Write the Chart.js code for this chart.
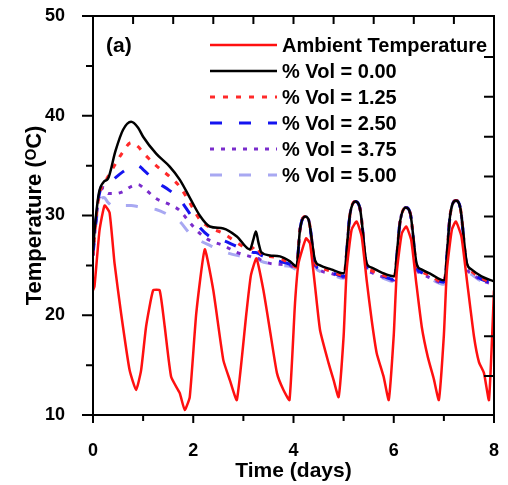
<!DOCTYPE html>
<html>
<head>
<meta charset="utf-8">
<script src="https://cdn.jsdelivr.net/npm/chart.js@4.4.1/dist/chart.umd.min.js"></script>
<style>
  html, body { margin: 0; padding: 0; background: #fff; }
  #wrap { width: 508px; height: 485px; }
</style>
</head>
<body>
<div id="wrap"><canvas id="tempChart" width="508" height="485"></canvas></div>
<script>
// Ambient temperature (own time grid)
const tAmb = [0.00, 0.03, 0.13, 0.23, 0.33, 0.43, 0.56, 0.73, 0.86, 0.96, 1.06, 1.20, 1.33, 1.43, 1.56, 1.73, 1.83, 1.93,
  2.06, 2.23, 2.40, 2.60, 2.73, 2.87, 3.06, 3.15, 3.26, 3.40, 3.53, 3.67, 3.80, 3.92,
  4.03, 4.10, 4.25, 4.33, 4.43, 4.53, 4.70, 4.80, 4.90, 5.00, 5.06, 5.16, 5.26, 5.36, 5.46, 5.56, 5.66, 5.80, 5.90,
  6.00, 6.06, 6.16, 6.25, 6.35, 6.45, 6.56, 6.68, 6.80, 6.90, 7.00, 7.06, 7.16, 7.24, 7.35, 7.46, 7.60, 7.70, 7.80, 7.90, 8.00];
const ambient = [22.5, 22.9, 28.5, 31.0, 30.3, 25.2, 20.2, 14.5, 12.5, 14.5, 18.9, 22.5, 22.5, 18.9, 13.8, 12.2, 10.5, 11.8,
  20.2, 26.6, 22.5, 15.5, 13.5, 11.5, 20.2, 24.0, 25.7, 22.5, 18.5, 14.2, 12.5, 11.5,
  21.2, 25.2, 27.7, 27.2, 22.9, 18.5, 15.2, 13.5, 11.8, 17.9, 24.5, 28.6, 29.4, 27.9, 23.5, 19.5, 16.2, 13.8, 11.5,
  18.0, 24.3, 28.2, 28.9, 27.5, 23.2, 18.8, 15.8, 13.6, 11.5, 18.0, 24.5, 28.6, 29.4, 27.9, 23.5, 17.9, 15.3, 14.2, 11.5, 22.5];

// Room temperature for each PCM volume fraction (shared time grid)
const tVol = [0.00, 0.05, 0.12, 0.22, 0.30, 0.45, 0.60, 0.76, 0.90, 1.00, 1.26, 1.53, 1.73, 1.93, 2.13, 2.33, 2.60, 2.87,
  3.13, 3.20, 3.25, 3.30, 3.36, 3.53, 3.73, 3.93, 4.06, 4.13, 4.23, 4.30, 4.43, 4.53, 4.75, 5.00,
  5.13, 5.23, 5.33, 5.46, 5.55, 5.75, 6.00, 6.13, 6.24, 6.33, 6.46, 6.55, 6.75, 7.00,
  7.13, 7.24, 7.33, 7.46, 7.55, 7.75, 8.00];
const vol000 = [26.5, 29.5, 32.3, 33.4, 33.7, 36.5, 38.6, 39.4, 38.8, 37.9, 36.2, 34.9, 33.6, 31.8, 30.0, 28.9, 28.7, 27.9,
  26.6, 27.6, 28.4, 27.3, 26.3, 26.0, 25.9, 25.4, 24.9, 28.6, 29.9, 29.6, 25.5, 25.0, 24.6, 24.2,
  30.2, 31.4, 30.6, 25.2, 24.8, 24.3, 23.9, 29.5, 30.8, 30.2, 25.1, 24.6, 24.1, 23.5,
  30.2, 31.5, 30.7, 25.2, 24.6, 23.9, 23.4];
const vol125 = [26.0, 29.0, 32.0, 33.2, 33.9, 35.2, 36.4, 37.3, 36.9, 36.3, 35.0, 33.9, 32.9, 31.3, 29.6, 28.8, 28.2, 27.3,
  26.6, 26.8, 27.0, 26.6, 26.1, 25.9, 25.7, 25.2, 24.8, 28.6, 29.9, 29.6, 25.3, 24.8, 24.4, 24.0,
  30.2, 31.4, 30.6, 25.0, 24.5, 24.1, 23.7, 29.5, 30.8, 30.2, 24.9, 24.4, 23.9, 23.3,
  30.2, 31.5, 30.7, 25.0, 24.4, 23.7, 23.2];
const vol250 = [26.0, 29.0, 32.0, 33.2, 33.1, 33.8, 34.4, 34.9, 35.0, 34.6, 33.4, 32.5, 31.6, 30.2, 28.8, 27.9, 27.5, 26.9,
  26.4, 26.3, 26.3, 26.2, 26.0, 25.7, 25.4, 25.1, 24.7, 28.6, 29.9, 29.6, 25.2, 24.6, 24.3, 23.9,
  30.2, 31.4, 30.6, 24.9, 24.4, 24.0, 23.6, 29.5, 30.8, 30.2, 24.8, 24.3, 23.8, 23.3,
  30.2, 31.5, 30.7, 24.9, 24.3, 23.6, 23.2];
const vol375 = [26.0, 29.0, 31.8, 32.8, 32.2, 32.2, 32.4, 32.9, 33.1, 32.8, 31.7, 31.1, 30.5, 29.3, 28.2, 27.5, 27.0, 26.3,
  25.9, 25.8, 25.8, 25.7, 25.5, 25.2, 25.1, 25.0, 24.7, 28.6, 29.9, 29.6, 25.1, 24.5, 24.2, 23.8,
  30.2, 31.4, 30.6, 24.8, 24.3, 23.9, 23.5, 29.5, 30.8, 30.2, 24.7, 24.2, 23.7, 23.2,
  30.2, 31.5, 30.7, 24.8, 24.2, 23.5, 23.1];
const vol500 = [26.0, 28.8, 31.2, 31.8, 31.3, 30.8, 31.0, 31.0, 30.9, 30.8, 30.6, 30.0, 29.4, 28.2, 27.5, 27.0, 26.4, 26.0,
  25.8, 25.7, 25.7, 25.6, 25.4, 25.2, 25.0, 24.9, 24.6, 28.6, 29.9, 29.6, 25.0, 24.4, 24.1, 23.7,
  30.2, 31.4, 30.6, 24.7, 24.2, 23.8, 23.4, 29.5, 30.8, 30.2, 24.6, 24.1, 23.6, 23.1,
  30.2, 31.5, 30.7, 24.7, 24.1, 23.4, 23.0];

const seriesLabels = ['Ambient Temperature', '% Vol = 0.00', '% Vol = 1.25', '% Vol = 2.50', '% Vol = 3.75', '% Vol = 5.00'];

// tick marks of the frame
const xMajor = [0, 2, 4, 6, 8];
const xMinor = [1, 3, 5, 7];
const yMajor = [10, 20, 30, 40, 50];
const yMinor = [15, 25, 35, 45];
const topTicks = [0.8, 1.6, 2.4, 3.2, 4.0, 4.8, 5.6, 6.4, 7.2];
const rightTicks = [13.9, 17.9, 21.9, 25.9, 29.9, 33.9, 37.9, 41.9, 45.9];

const FONT = "'Liberation Sans', Arial, sans-serif";

function toPoints(ts, vs) {
    return ts.map((t, i) => ({ x: t, y: vs[i] }));
}

// рамка, засечки, подпись (a) и легенда
const framePlugin = {
    id: 'frame',
    afterDraw(chart) {
        const ctx = chart.ctx;
        const a = chart.chartArea;
        const xs = chart.scales.x, ys = chart.scales.y;
        ctx.save();
        ctx.strokeStyle = '#000';
        ctx.lineWidth = 2;
        ctx.strokeRect(a.left, a.top, a.right - a.left, a.bottom - a.top);

        ctx.beginPath();
        xMajor.forEach(v => { const p = xs.getPixelForValue(v); ctx.moveTo(p, a.bottom); ctx.lineTo(p, a.bottom + 8); });
        xMinor.forEach(v => { const p = xs.getPixelForValue(v); ctx.moveTo(p, a.bottom); ctx.lineTo(p, a.bottom + 6); });
        yMajor.forEach(v => { const p = ys.getPixelForValue(v); ctx.moveTo(a.left, p); ctx.lineTo(a.left - 11, p); });
        yMinor.forEach(v => { const p = ys.getPixelForValue(v); ctx.moveTo(a.left, p); ctx.lineTo(a.left - 7, p); });
        topTicks.forEach(v => { const p = xs.getPixelForValue(v); ctx.moveTo(p, a.top); ctx.lineTo(p, a.top + 8); });
        rightTicks.forEach(v => { const p = ys.getPixelForValue(v); ctx.moveTo(a.right, p); ctx.lineTo(a.right - 10, p); });
        ctx.stroke();

        ctx.fillStyle = '#000';
        ctx.font = 'bold 21px ' + FONT;
        ctx.textBaseline = 'middle';
        ctx.textAlign = 'left';
        ctx.fillText('(a)', 106, 46);

        // legend
        ctx.font = 'bold 20px ' + FONT;
        chart.data.datasets.forEach((ds, i) => {
            const y = 45 + i * 26;
            ctx.save();
            ctx.strokeStyle = ds.borderColor;
            ctx.lineWidth = ds.borderWidth;
            ctx.setLineDash(ds.borderDash || []);
            ctx.beginPath();
            ctx.moveTo(210, y);
            ctx.lineTo(277, y);
            ctx.stroke();
            ctx.restore();
            ctx.fillText(ds.label, 282, y + 1);
        });
        ctx.restore();
    }
};

document.addEventListener('DOMContentLoaded', function () {
    const ctx = document.getElementById('tempChart').getContext('2d');

    new Chart(ctx, {
        type: 'line',
        data: {
            datasets: [
                { label: seriesLabels[0], data: toPoints(tAmb, ambient), borderColor: '#ff1010', borderWidth: 2.5,
                    cubicInterpolationMode: 'default', tension: 0.15 },
                { label: seriesLabels[1], data: toPoints(tVol, vol000), borderColor: '#000000', borderWidth: 2.5 },
                { label: seriesLabels[2], data: toPoints(tVol, vol125), borderColor: '#ff2a2a', borderWidth: 3, borderDash: [5, 8] },
                { label: seriesLabels[3], data: toPoints(tVol, vol250), borderColor: '#1414f0', borderWidth: 3, borderDash: [12, 17] },
                { label: seriesLabels[4], data: toPoints(tVol, vol375), borderColor: '#7a2ccc', borderWidth: 3, borderDash: [4, 7] },
                { label: seriesLabels[5], data: toPoints(tVol, vol500), borderColor: '#a8a8f2', borderWidth: 3, borderDash: [12, 17] }
            ]
        },
        options: {
            responsive: false,
            animation: false,
            layout: { padding: { top: 16, right: 14, left: 0, bottom: 0 } },
            elements: { point: { radius: 0 }, line: { cubicInterpolationMode: 'monotone', fill: false } },
            plugins: { legend: { display: false }, tooltip: { enabled: false } },
            scales: {
                x: {
                    type: 'linear', min: 0, max: 8,
                    grid: { display: false },
                    border: { display: false },
                    ticks: { stepSize: 2, padding: 17, color: '#000', font: { family: FONT, size: 18, weight: 'bold' } },
                    title: { display: true, text: 'Time (days)', color: '#000', padding: { top: 0, bottom: 1 },
                        font: { family: FONT, size: 21, weight: 'bold' } },
                    afterFit: s => { s.height = 70; s.paddingLeft = 0; s.paddingRight = 0; }
                },
                y: {
                    min: 10, max: 50,
                    grid: { display: false },
                    border: { display: false },
                    ticks: { stepSize: 10, padding: 20, color: '#000', font: { family: FONT, size: 18, weight: 'bold' } },
                    title: { display: true, text: 'Temperature (ᴼC)', color: '#000', padding: { top: 22, bottom: 0 },
                        font: { family: FONT, size: 22, weight: 'bold' } },
                    afterFit: s => { s.width = 93; s.paddingTop = 0; s.paddingBottom = 0; }
                }
            }
        },
        plugins: [framePlugin]
    });
});
</script>
</body>
</html>
